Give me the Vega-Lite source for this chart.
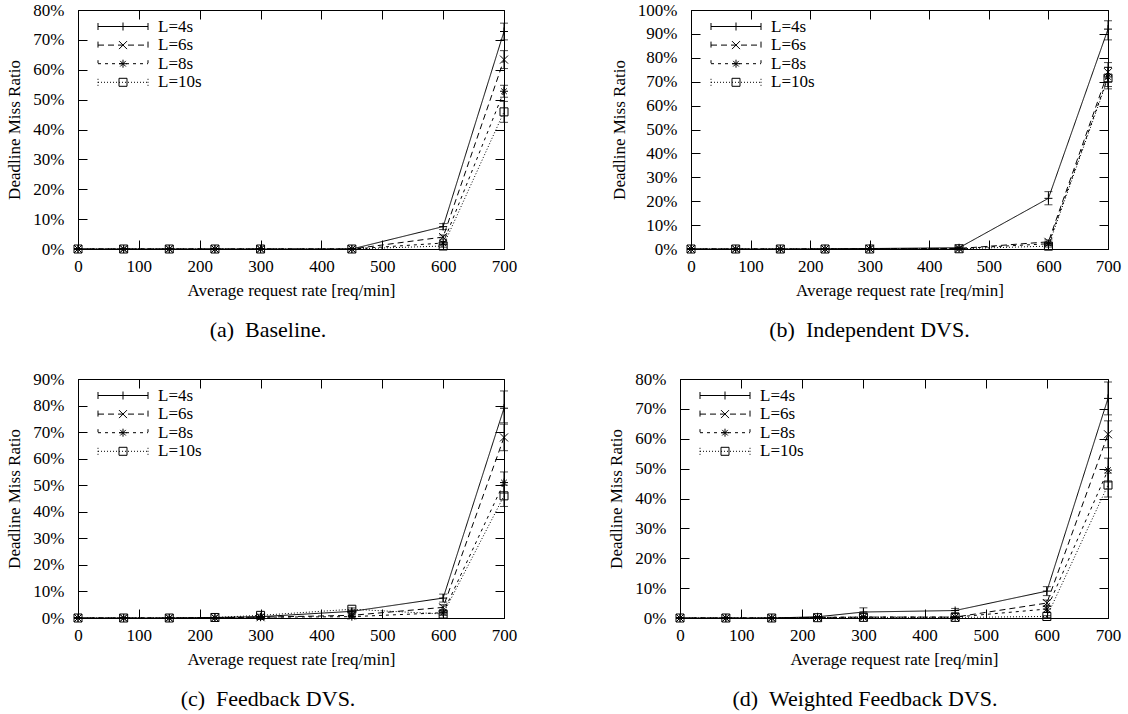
{
  "$schema": "https://vega.github.io/schema/vega-lite/v6.json",
  "padding": {"left": 5, "top": 0, "right": 0, "bottom": 0},
  "background": "white",
  "datasets": {
    "a": [
      {"x":0,"L":"L=4s","y":0,"lo":0,"hi":0},{"x":75,"L":"L=4s","y":0,"lo":0,"hi":0},{"x":150,"L":"L=4s","y":0,"lo":0,"hi":0},{"x":225,"L":"L=4s","y":0,"lo":0,"hi":0},{"x":300,"L":"L=4s","y":0,"lo":0,"hi":0},{"x":450,"L":"L=4s","y":0,"lo":0,"hi":0},{"x":600,"L":"L=4s","y":0.075,"lo":0.065,"hi":0.085},{"x":700,"L":"L=4s","y":0.728,"lo":0.70,"hi":0.756},
      {"x":0,"L":"L=6s","y":0,"lo":0,"hi":0},{"x":75,"L":"L=6s","y":0,"lo":0,"hi":0},{"x":150,"L":"L=6s","y":0,"lo":0,"hi":0},{"x":225,"L":"L=6s","y":0,"lo":0,"hi":0},{"x":300,"L":"L=6s","y":0,"lo":0,"hi":0},{"x":450,"L":"L=6s","y":0,"lo":0,"hi":0},{"x":600,"L":"L=6s","y":0.04,"lo":0.033,"hi":0.047},{"x":700,"L":"L=6s","y":0.634,"lo":0.604,"hi":0.664},
      {"x":0,"L":"L=8s","y":0,"lo":0,"hi":0},{"x":75,"L":"L=8s","y":0,"lo":0,"hi":0},{"x":150,"L":"L=8s","y":0,"lo":0,"hi":0},{"x":225,"L":"L=8s","y":0,"lo":0,"hi":0},{"x":300,"L":"L=8s","y":0,"lo":0,"hi":0},{"x":450,"L":"L=8s","y":0,"lo":0,"hi":0},{"x":600,"L":"L=8s","y":0.02,"lo":0.015,"hi":0.025},{"x":700,"L":"L=8s","y":0.528,"lo":0.508,"hi":0.548},
      {"x":0,"L":"L=10s","y":0,"lo":0,"hi":0},{"x":75,"L":"L=10s","y":0,"lo":0,"hi":0},{"x":150,"L":"L=10s","y":0,"lo":0,"hi":0},{"x":225,"L":"L=10s","y":0,"lo":0,"hi":0},{"x":300,"L":"L=10s","y":0,"lo":0,"hi":0},{"x":450,"L":"L=10s","y":0,"lo":0,"hi":0},{"x":600,"L":"L=10s","y":0.01,"lo":0.006,"hi":0.014},{"x":700,"L":"L=10s","y":0.459,"lo":0.424,"hi":0.494}
    ],
    "b": [
      {"x":0,"L":"L=4s","y":0,"lo":0,"hi":0},{"x":75,"L":"L=4s","y":0,"lo":0,"hi":0},{"x":150,"L":"L=4s","y":0,"lo":0,"hi":0},{"x":225,"L":"L=4s","y":0.001,"lo":0.001,"hi":0.001},{"x":300,"L":"L=4s","y":0.002,"lo":0.002,"hi":0.002},{"x":450,"L":"L=4s","y":0.005,"lo":0.002,"hi":0.008},{"x":600,"L":"L=4s","y":0.212,"lo":0.185,"hi":0.24},{"x":700,"L":"L=4s","y":0.92,"lo":0.875,"hi":0.955},
      {"x":0,"L":"L=6s","y":0,"lo":0,"hi":0},{"x":75,"L":"L=6s","y":0,"lo":0,"hi":0},{"x":150,"L":"L=6s","y":0,"lo":0,"hi":0},{"x":225,"L":"L=6s","y":0,"lo":0,"hi":0},{"x":300,"L":"L=6s","y":0.001,"lo":0.001,"hi":0.001},{"x":450,"L":"L=6s","y":0.002,"lo":0.002,"hi":0.002},{"x":600,"L":"L=6s","y":0.03,"lo":0.022,"hi":0.038},{"x":700,"L":"L=6s","y":0.74,"lo":0.70,"hi":0.78},
      {"x":0,"L":"L=8s","y":0,"lo":0,"hi":0},{"x":75,"L":"L=8s","y":0,"lo":0,"hi":0},{"x":150,"L":"L=8s","y":0,"lo":0,"hi":0},{"x":225,"L":"L=8s","y":0,"lo":0,"hi":0},{"x":300,"L":"L=8s","y":0.001,"lo":0.001,"hi":0.001},{"x":450,"L":"L=8s","y":0.002,"lo":0.002,"hi":0.002},{"x":600,"L":"L=8s","y":0.022,"lo":0.016,"hi":0.028},{"x":700,"L":"L=8s","y":0.72,"lo":0.68,"hi":0.76},
      {"x":0,"L":"L=10s","y":0,"lo":0,"hi":0},{"x":75,"L":"L=10s","y":0,"lo":0,"hi":0},{"x":150,"L":"L=10s","y":0,"lo":0,"hi":0},{"x":225,"L":"L=10s","y":0,"lo":0,"hi":0},{"x":300,"L":"L=10s","y":0,"lo":0,"hi":0},{"x":450,"L":"L=10s","y":0.001,"lo":0.001,"hi":0.001},{"x":600,"L":"L=10s","y":0.012,"lo":0.008,"hi":0.016},{"x":700,"L":"L=10s","y":0.715,"lo":0.67,"hi":0.76}
    ],
    "c": [
      {"x":0,"L":"L=4s","y":0,"lo":0,"hi":0},{"x":75,"L":"L=4s","y":0,"lo":0,"hi":0},{"x":150,"L":"L=4s","y":0,"lo":0,"hi":0},{"x":225,"L":"L=4s","y":0.002,"lo":0.002,"hi":0.002},{"x":300,"L":"L=4s","y":0.005,"lo":0.005,"hi":0.005},{"x":450,"L":"L=4s","y":0.025,"lo":0.02,"hi":0.03},{"x":600,"L":"L=4s","y":0.075,"lo":0.06,"hi":0.09},{"x":700,"L":"L=4s","y":0.79,"lo":0.735,"hi":0.855},
      {"x":0,"L":"L=6s","y":0,"lo":0,"hi":0},{"x":75,"L":"L=6s","y":0,"lo":0,"hi":0},{"x":150,"L":"L=6s","y":0,"lo":0,"hi":0},{"x":225,"L":"L=6s","y":0.001,"lo":0.001,"hi":0.001},{"x":300,"L":"L=6s","y":0.003,"lo":0.003,"hi":0.003},{"x":450,"L":"L=6s","y":0.01,"lo":0.007,"hi":0.013},{"x":600,"L":"L=6s","y":0.04,"lo":0.03,"hi":0.05},{"x":700,"L":"L=6s","y":0.68,"lo":0.63,"hi":0.73},
      {"x":0,"L":"L=8s","y":0,"lo":0,"hi":0},{"x":75,"L":"L=8s","y":0,"lo":0,"hi":0},{"x":150,"L":"L=8s","y":0,"lo":0,"hi":0},{"x":225,"L":"L=8s","y":0.001,"lo":0.001,"hi":0.001},{"x":300,"L":"L=8s","y":0.003,"lo":0.003,"hi":0.003},{"x":450,"L":"L=8s","y":0.005,"lo":0.003,"hi":0.007},{"x":600,"L":"L=8s","y":0.02,"lo":0.015,"hi":0.025},{"x":700,"L":"L=8s","y":0.51,"lo":0.47,"hi":0.55},
      {"x":0,"L":"L=10s","y":0,"lo":0,"hi":0},{"x":75,"L":"L=10s","y":0,"lo":0,"hi":0},{"x":150,"L":"L=10s","y":0,"lo":0,"hi":0},{"x":225,"L":"L=10s","y":0.002,"lo":0.002,"hi":0.002},{"x":300,"L":"L=10s","y":0.01,"lo":0.006,"hi":0.014},{"x":450,"L":"L=10s","y":0.033,"lo":0.028,"hi":0.038},{"x":600,"L":"L=10s","y":0.015,"lo":0.01,"hi":0.02},{"x":700,"L":"L=10s","y":0.46,"lo":0.42,"hi":0.50}
    ],
    "d": [
      {"x":0,"L":"L=4s","y":0,"lo":0,"hi":0},{"x":75,"L":"L=4s","y":0,"lo":0,"hi":0},{"x":150,"L":"L=4s","y":0,"lo":0,"hi":0},{"x":225,"L":"L=4s","y":0.004,"lo":0.004,"hi":0.004},{"x":300,"L":"L=4s","y":0.02,"lo":0.005,"hi":0.034},{"x":450,"L":"L=4s","y":0.025,"lo":0.018,"hi":0.032},{"x":600,"L":"L=4s","y":0.09,"lo":0.075,"hi":0.105},{"x":700,"L":"L=4s","y":0.735,"lo":0.68,"hi":0.79},
      {"x":0,"L":"L=6s","y":0,"lo":0,"hi":0},{"x":75,"L":"L=6s","y":0,"lo":0,"hi":0},{"x":150,"L":"L=6s","y":0,"lo":0,"hi":0},{"x":225,"L":"L=6s","y":0.002,"lo":0.002,"hi":0.002},{"x":300,"L":"L=6s","y":0.003,"lo":0.003,"hi":0.003},{"x":450,"L":"L=6s","y":0.003,"lo":0.003,"hi":0.003},{"x":600,"L":"L=6s","y":0.05,"lo":0.04,"hi":0.06},{"x":700,"L":"L=6s","y":0.615,"lo":0.57,"hi":0.66},
      {"x":0,"L":"L=8s","y":0,"lo":0,"hi":0},{"x":75,"L":"L=8s","y":0,"lo":0,"hi":0},{"x":150,"L":"L=8s","y":0,"lo":0,"hi":0},{"x":225,"L":"L=8s","y":0.002,"lo":0.002,"hi":0.002},{"x":300,"L":"L=8s","y":0.003,"lo":0.003,"hi":0.003},{"x":450,"L":"L=8s","y":0.003,"lo":0.003,"hi":0.003},{"x":600,"L":"L=8s","y":0.03,"lo":0.02,"hi":0.04},{"x":700,"L":"L=8s","y":0.495,"lo":0.455,"hi":0.535},
      {"x":0,"L":"L=10s","y":0,"lo":0,"hi":0},{"x":75,"L":"L=10s","y":0,"lo":0,"hi":0},{"x":150,"L":"L=10s","y":0,"lo":0,"hi":0},{"x":225,"L":"L=10s","y":0.001,"lo":0.001,"hi":0.001},{"x":300,"L":"L=10s","y":0.002,"lo":0.002,"hi":0.002},{"x":450,"L":"L=10s","y":0.002,"lo":0.002,"hi":0.002},{"x":600,"L":"L=10s","y":0.005,"lo":0.002,"hi":0.008},{"x":700,"L":"L=10s","y":0.445,"lo":0.405,"hi":0.485}
    ]
  },
  "vconcat": [
    {
      "spacing": 91,
      "resolve": {"scale": {"shape": "independent", "strokeDash": "independent"}, "legend": {"shape": "independent", "strokeDash": "independent"}},
      "hconcat": [
        {
          "width": 426, "height": 239,
          "data": {"name": "a"},
          "title": {"text": "(a)\u00a0\u00a0Baseline.", "orient": "bottom", "anchor": "middle", "frame": "group", "dx": -23, "offset": 22},
          "layer": [
            {"mark": {"type": "line", "color": "black", "strokeWidth": 1},
             "encoding": {
               "x": {"field": "x", "type": "quantitative", "scale": {"domain": [0, 700], "nice": false}, "axis": {"values": [0,100,200,300,400,500,600,700], "title": "Average request rate [req/min]"}},
               "y": {"field": "y", "type": "quantitative", "scale": {"domain": [0, 0.8], "nice": false}, "axis": {"values": [0,0.1,0.2,0.3,0.4,0.5,0.6,0.7,0.8], "format": ".0%", "title": "Deadline Miss Ratio"}},
               "strokeDash": {"field": "L", "type": "nominal", "scale": {"domain": ["L=4s","L=6s","L=8s","L=10s"], "range": [[1,0],[6,4],[3,4],[1,2]]},
                 "legend": {"orient": "top-left", "offset": 8, "padding": 0, "title": null, "symbolType": "M0.7,0H10.7M0.7,-0.7V0.7M10.7,-0.7V0.7", "symbolSize": 100, "symbolStrokeWidth": 1, "symbolStrokeColor": "black", "symbolFillColor": "transparent", "labelOffset": 55, "rowPadding": 0.6}}
             }},
            {"mark": {"type": "errorbar", "ticks": {"size": 8, "color": "black", "thickness": 1}, "rule": {"color": "black", "strokeWidth": 1}},
             "encoding": {
               "x": {"field": "x", "type": "quantitative", "axis": null},
               "y": {"field": "lo", "type": "quantitative", "axis": null},
               "y2": {"field": "hi"}
             }},
            {"mark": {"type": "point", "filled": false, "color": "black", "size": 64, "strokeWidth": 1, "opacity": 1},
             "encoding": {
               "x": {"field": "x", "type": "quantitative", "axis": {"orient": "top", "labels": false, "title": null, "domain": false, "values": [0,100,200,300,400,500,600,700]}},
               "y": {"field": "y", "type": "quantitative", "axis": {"orient": "right", "labels": false, "title": null, "domain": false, "values": [0,0.1,0.2,0.3,0.4,0.5,0.6,0.7,0.8]}},
               "shape": {"field": "L", "type": "nominal", "scale": {"domain": ["L=4s","L=6s","L=8s","L=10s"], "range": ["M-1,0H1M0,-1V1", "M-1,-1L1,1M-1,1L1,-1", "M-1,0H1M0,-1V1M-0.7,-0.7L0.7,0.7M-0.7,0.7L0.7,-0.7", "M-1,-1H1V1H-1Z"]},
                 "legend": {"orient": "none", "legendX": 36.5, "legendY": 8, "padding": 0, "title": null, "labelExpr": "''", "symbolSize": 64, "symbolStrokeWidth": 1, "symbolStrokeColor": "black", "symbolFillColor": "transparent", "rowPadding": 0.6}}
             }}
          ],
          "resolve": {"axis": {"x": "independent", "y": "independent"}}
        },
        {
          "width": 417, "height": 239,
          "data": {"name": "b"},
          "title": {"text": "(b)\u00a0\u00a0Independent DVS.", "orient": "bottom", "anchor": "middle", "frame": "group", "dx": -30, "offset": 22},
          "layer": [
            {"mark": {"type": "line", "color": "black", "strokeWidth": 1},
             "encoding": {
               "x": {"field": "x", "type": "quantitative", "scale": {"domain": [0, 700], "nice": false}, "axis": {"values": [0,100,200,300,400,500,600,700], "title": "Average request rate [req/min]"}},
               "y": {"field": "y", "type": "quantitative", "scale": {"domain": [0, 1], "nice": false}, "axis": {"values": [0,0.1,0.2,0.3,0.4,0.5,0.6,0.7,0.8,0.9,1], "format": ".0%", "title": "Deadline Miss Ratio"}},
               "strokeDash": {"field": "L", "type": "nominal", "scale": {"domain": ["L=4s","L=6s","L=8s","L=10s"], "range": [[1,0],[6,4],[3,4],[1,2]]},
                 "legend": {"orient": "top-left", "offset": 8, "padding": 0, "title": null, "symbolType": "M0.7,0H10.7M0.7,-0.7V0.7M10.7,-0.7V0.7", "symbolSize": 100, "symbolStrokeWidth": 1, "symbolStrokeColor": "black", "symbolFillColor": "transparent", "labelOffset": 55, "rowPadding": 0.6}}
             }},
            {"mark": {"type": "errorbar", "ticks": {"size": 8, "color": "black", "thickness": 1}, "rule": {"color": "black", "strokeWidth": 1}},
             "encoding": {
               "x": {"field": "x", "type": "quantitative", "axis": null},
               "y": {"field": "lo", "type": "quantitative", "axis": null},
               "y2": {"field": "hi"}
             }},
            {"mark": {"type": "point", "filled": false, "color": "black", "size": 64, "strokeWidth": 1, "opacity": 1},
             "encoding": {
               "x": {"field": "x", "type": "quantitative", "axis": {"orient": "top", "labels": false, "title": null, "domain": false, "values": [0,100,200,300,400,500,600,700]}},
               "y": {"field": "y", "type": "quantitative", "axis": {"orient": "right", "labels": false, "title": null, "domain": false, "values": [0,0.1,0.2,0.3,0.4,0.5,0.6,0.7,0.8,0.9,1]}},
               "shape": {"field": "L", "type": "nominal", "scale": {"domain": ["L=4s","L=6s","L=8s","L=10s"], "range": ["M-1,0H1M0,-1V1", "M-1,-1L1,1M-1,1L1,-1", "M-1,0H1M0,-1V1M-0.7,-0.7L0.7,0.7M-0.7,0.7L0.7,-0.7", "M-1,-1H1V1H-1Z"]},
                 "legend": {"orient": "none", "legendX": 36.5, "legendY": 8, "padding": 0, "title": null, "labelExpr": "''", "symbolSize": 64, "symbolStrokeWidth": 1, "symbolStrokeColor": "black", "symbolFillColor": "transparent", "rowPadding": 0.6}}
             }}
          ],
          "resolve": {"axis": {"x": "independent", "y": "independent"}}
        }
      ]
    },
    {
      "spacing": 89,
      "resolve": {"scale": {"shape": "independent", "strokeDash": "independent"}, "legend": {"shape": "independent", "strokeDash": "independent"}},
      "hconcat": [
        {
          "width": 426, "height": 239,
          "data": {"name": "c"},
          "title": {"text": "(c)\u00a0\u00a0Feedback DVS.", "orient": "bottom", "anchor": "middle", "frame": "group", "dx": -23, "offset": 22},
          "layer": [
            {"mark": {"type": "line", "color": "black", "strokeWidth": 1},
             "encoding": {
               "x": {"field": "x", "type": "quantitative", "scale": {"domain": [0, 700], "nice": false}, "axis": {"values": [0,100,200,300,400,500,600,700], "title": "Average request rate [req/min]"}},
               "y": {"field": "y", "type": "quantitative", "scale": {"domain": [0, 0.9], "nice": false}, "axis": {"values": [0,0.1,0.2,0.3,0.4,0.5,0.6,0.7,0.8,0.9], "format": ".0%", "title": "Deadline Miss Ratio"}},
               "strokeDash": {"field": "L", "type": "nominal", "scale": {"domain": ["L=4s","L=6s","L=8s","L=10s"], "range": [[1,0],[6,4],[3,4],[1,2]]},
                 "legend": {"orient": "top-left", "offset": 8, "padding": 0, "title": null, "symbolType": "M0.7,0H10.7M0.7,-0.7V0.7M10.7,-0.7V0.7", "symbolSize": 100, "symbolStrokeWidth": 1, "symbolStrokeColor": "black", "symbolFillColor": "transparent", "labelOffset": 55, "rowPadding": 0.6}}
             }},
            {"mark": {"type": "errorbar", "ticks": {"size": 8, "color": "black", "thickness": 1}, "rule": {"color": "black", "strokeWidth": 1}},
             "encoding": {
               "x": {"field": "x", "type": "quantitative", "axis": null},
               "y": {"field": "lo", "type": "quantitative", "axis": null},
               "y2": {"field": "hi"}
             }},
            {"mark": {"type": "point", "filled": false, "color": "black", "size": 64, "strokeWidth": 1, "opacity": 1},
             "encoding": {
               "x": {"field": "x", "type": "quantitative", "axis": {"orient": "top", "labels": false, "title": null, "domain": false, "values": [0,100,200,300,400,500,600,700]}},
               "y": {"field": "y", "type": "quantitative", "axis": {"orient": "right", "labels": false, "title": null, "domain": false, "values": [0,0.1,0.2,0.3,0.4,0.5,0.6,0.7,0.8,0.9]}},
               "shape": {"field": "L", "type": "nominal", "scale": {"domain": ["L=4s","L=6s","L=8s","L=10s"], "range": ["M-1,0H1M0,-1V1", "M-1,-1L1,1M-1,1L1,-1", "M-1,0H1M0,-1V1M-0.7,-0.7L0.7,0.7M-0.7,0.7L0.7,-0.7", "M-1,-1H1V1H-1Z"]},
                 "legend": {"orient": "none", "legendX": 36.5, "legendY": 8, "padding": 0, "title": null, "labelExpr": "''", "symbolSize": 64, "symbolStrokeWidth": 1, "symbolStrokeColor": "black", "symbolFillColor": "transparent", "rowPadding": 0.6}}
             }}
          ],
          "resolve": {"axis": {"x": "independent", "y": "independent"}}
        },
        {
          "width": 428, "height": 239,
          "data": {"name": "d"},
          "title": {"text": "(d)\u00a0\u00a0Weighted Feedback DVS.", "orient": "bottom", "anchor": "middle", "frame": "group", "dx": -29, "offset": 22},
          "layer": [
            {"mark": {"type": "line", "color": "black", "strokeWidth": 1},
             "encoding": {
               "x": {"field": "x", "type": "quantitative", "scale": {"domain": [0, 700], "nice": false}, "axis": {"values": [0,100,200,300,400,500,600,700], "title": "Average request rate [req/min]"}},
               "y": {"field": "y", "type": "quantitative", "scale": {"domain": [0, 0.8], "nice": false}, "axis": {"values": [0,0.1,0.2,0.3,0.4,0.5,0.6,0.7,0.8], "format": ".0%", "title": "Deadline Miss Ratio"}},
               "strokeDash": {"field": "L", "type": "nominal", "scale": {"domain": ["L=4s","L=6s","L=8s","L=10s"], "range": [[1,0],[6,4],[3,4],[1,2]]},
                 "legend": {"orient": "top-left", "offset": 8, "padding": 0, "title": null, "symbolType": "M0.7,0H10.7M0.7,-0.7V0.7M10.7,-0.7V0.7", "symbolSize": 100, "symbolStrokeWidth": 1, "symbolStrokeColor": "black", "symbolFillColor": "transparent", "labelOffset": 55, "rowPadding": 0.6}}
             }},
            {"mark": {"type": "errorbar", "ticks": {"size": 8, "color": "black", "thickness": 1}, "rule": {"color": "black", "strokeWidth": 1}},
             "encoding": {
               "x": {"field": "x", "type": "quantitative", "axis": null},
               "y": {"field": "lo", "type": "quantitative", "axis": null},
               "y2": {"field": "hi"}
             }},
            {"mark": {"type": "point", "filled": false, "color": "black", "size": 64, "strokeWidth": 1, "opacity": 1},
             "encoding": {
               "x": {"field": "x", "type": "quantitative", "axis": {"orient": "top", "labels": false, "title": null, "domain": false, "values": [0,100,200,300,400,500,600,700]}},
               "y": {"field": "y", "type": "quantitative", "axis": {"orient": "right", "labels": false, "title": null, "domain": false, "values": [0,0.1,0.2,0.3,0.4,0.5,0.6,0.7,0.8]}},
               "shape": {"field": "L", "type": "nominal", "scale": {"domain": ["L=4s","L=6s","L=8s","L=10s"], "range": ["M-1,0H1M0,-1V1", "M-1,-1L1,1M-1,1L1,-1", "M-1,0H1M0,-1V1M-0.7,-0.7L0.7,0.7M-0.7,0.7L0.7,-0.7", "M-1,-1H1V1H-1Z"]},
                 "legend": {"orient": "none", "legendX": 36.5, "legendY": 8, "padding": 0, "title": null, "labelExpr": "''", "symbolSize": 64, "symbolStrokeWidth": 1, "symbolStrokeColor": "black", "symbolFillColor": "transparent", "rowPadding": 0.6}}
             }}
          ],
          "resolve": {"axis": {"x": "independent", "y": "independent"}}
        }
      ]
    }
  ],
  "spacing": 27,
  "resolve": {"scale": {"shape": "independent", "strokeDash": "independent"}, "legend": {"shape": "independent", "strokeDash": "independent"}},
  "config": {
    "font": "Times New Roman, Liberation Serif, DejaVu Serif, serif",
    "view": {"stroke": "black", "strokeWidth": 1},
    "axis": {"labelFont": "Times New Roman, Liberation Serif, DejaVu Serif, serif", "titleFont": "Times New Roman, Liberation Serif, DejaVu Serif, serif", "labelFontSize": 17, "titleFontSize": 17, "titleFontWeight": "normal", "labelColor": "black", "titleColor": "black", "domainColor": "black", "tickColor": "black", "tickSize": -9, "grid": false, "labelFlush": false, "labelOverlap": false},
    "axisX": {"labelPadding": 18, "titlePadding": 8},
    "axisY": {"labelPadding": 23, "titlePadding": 9},
    "legend": {"labelFont": "Times New Roman, Liberation Serif, DejaVu Serif, serif", "labelFontSize": 17, "labelColor": "black"},
    "title": {"font": "Times New Roman, Liberation Serif, DejaVu Serif, serif", "fontSize": 22, "fontWeight": "normal", "color": "black"}
  }
}
